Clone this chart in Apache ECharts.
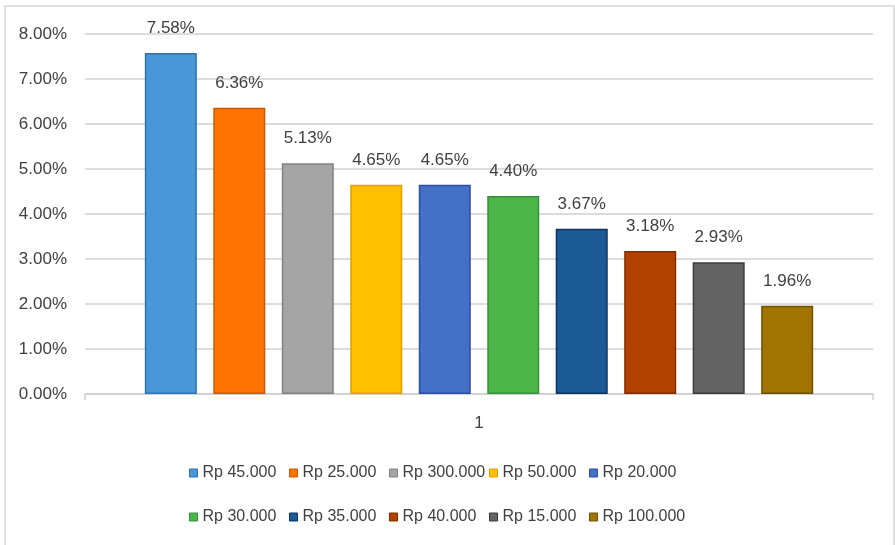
<!DOCTYPE html>
<html>
<head>
<meta charset="utf-8">
<script src="https://cdn.jsdelivr.net/npm/echarts@6/dist/echarts.min.js"></script>
<style>
  html, body { margin: 0; padding: 0; background: #ffffff; }
  #chart { width: 895px; height: 545px; }
</style>
</head>
<body>
<div id="chart"></div>
<script>
// Share of each price level, in percent (single category "1")
const categories = ['1'];
const seriesNames = ['Rp 45.000', 'Rp 25.000', 'Rp 300.000', 'Rp 50.000', 'Rp 20.000',
                     'Rp 30.000', 'Rp 35.000', 'Rp 40.000', 'Rp 15.000', 'Rp 100.000'];
const seriesValues = [7.58, 6.36, 5.13, 4.65, 4.65, 4.40, 3.67, 3.18, 2.93, 1.96];
const yTicks = { min: 0, max: 8, interval: 1 };

const fillColors = ['#4a97d7', '#ff7300', '#a5a5a5', '#ffc000', '#4470c8',
                    '#4db649', '#1b5a96', '#b24200', '#636363', '#a07400'];
const edgeColors = ['#2c73b3', '#cf5600', '#828282', '#dca300', '#2c4f9e',
                    '#37913a', '#0b3562', '#7e2c00', '#3c3c3c', '#6e5000'];

const font = 'Liberation Sans, Arial, sans-serif';

const series = seriesNames.map((name, i) => ({
  name: name,
  type: 'bar',
  data: [seriesValues[i]],
  barWidth: 52,
  barGap: '31.7%',
  itemStyle: { color: fillColors[i], borderColor: edgeColors[i], borderWidth: 1.5 },
  label: {
    show: true,
    position: 'top',
    distance: 16,
    color: '#404040',
    fontFamily: font,
    fontSize: 17,
    formatter: p => p.value.toFixed(2) + '%'
  }
}));

// Legend entries sit on a fixed 100px pitch, five per row
const legends = seriesNames.map((name, i) => ({
  data: [name],
  left: 189 + 100 * (i % 5),
  top: i < 5 ? 465 : 509,
  padding: 0,
  itemWidth: 8,
  itemHeight: 8,
  icon: 'rect',
  selectedMode: false,
  textStyle: { color: '#404040', fontFamily: font, fontSize: 16 },
  itemStyle: { borderWidth: 1 }
}));

const chart = echarts.init(document.getElementById('chart'), null, { renderer: 'canvas' });
chart.setOption({
  backgroundColor: '#ffffff',
  animation: false,
  graphic: [{
    type: 'rect',
    shape: { x: 5, y: 6, width: 889, height: 545 },
    style: { fill: 'none', stroke: '#d6d6d6', lineWidth: 1.5 },
    silent: true,
    z: -1
  }],
  grid: { left: 85, right: 22, top: 34, bottom: 151, containLabel: false },
  legend: legends,
  xAxis: {
    type: 'category',
    data: categories,
    axisLine: { show: true, lineStyle: { color: '#d0d0d0', width: 1.5 } },
    axisTick: { show: true, length: 6, lineStyle: { color: '#d0d0d0', width: 1.5 } },
    axisLabel: { color: '#404040', fontFamily: font, fontSize: 17, margin: 21 }
  },
  yAxis: {
    type: 'value',
    min: yTicks.min,
    max: yTicks.max,
    interval: yTicks.interval,
    axisLine: { show: false },
    axisTick: { show: false },
    splitLine: { lineStyle: { color: '#d0d0d0', width: 1.5 } },
    axisLabel: {
      color: '#404040', fontFamily: font, fontSize: 17, margin: 18,
      formatter: v => v.toFixed(2) + '%'
    }
  },
  series: series
});
</script>
</body>
</html>
